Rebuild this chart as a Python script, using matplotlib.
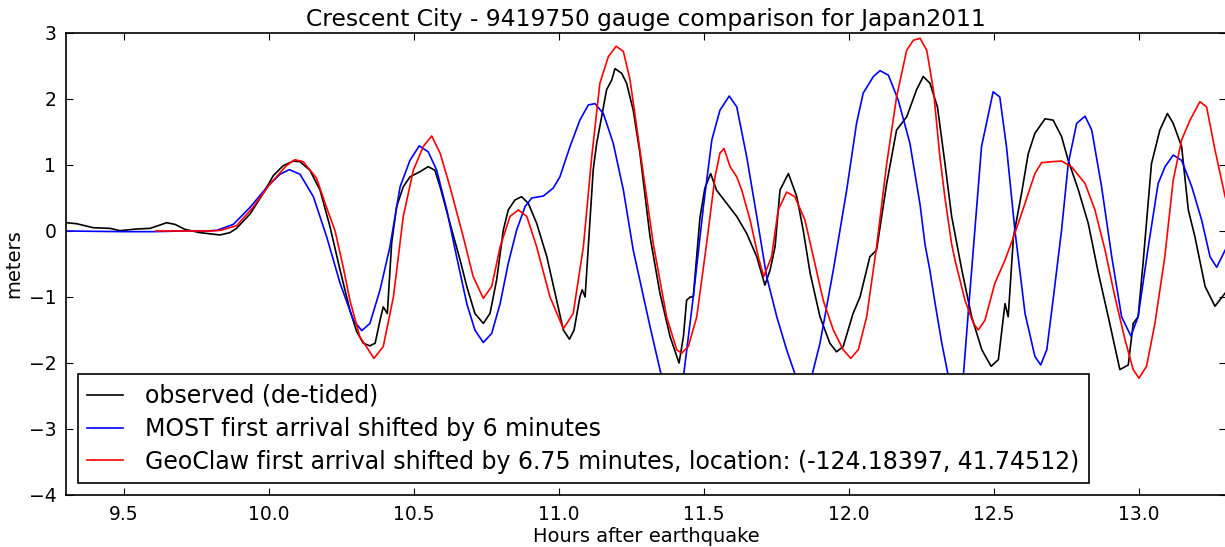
import matplotlib
matplotlib.use("Agg")
import matplotlib.pyplot as plt

# observed (de-tided) gauge record, hours after quake / meters
obs_t = [9.302, 9.337, 9.394, 9.452, 9.486, 9.543, 9.590, 9.624, 9.647, 9.676,
         9.710, 9.762, 9.831, 9.865, 9.888, 9.935, 9.980, 10.015, 10.049, 10.084,
         10.107, 10.141, 10.176, 10.210, 10.245, 10.279, 10.302, 10.325, 10.348, 10.366,
         10.383, 10.394, 10.408, 10.423, 10.440, 10.463, 10.486, 10.521, 10.549, 10.572,
         10.590, 10.624, 10.659, 10.682, 10.710, 10.739, 10.762, 10.785, 10.808, 10.825,
         10.848, 10.871, 10.894, 10.923, 10.958, 10.992, 11.015, 11.036, 11.052, 11.072,
         11.080, 11.090, 11.101, 11.118, 11.130, 11.147, 11.164, 11.182, 11.193, 11.216,
         11.233, 11.256, 11.279, 11.314, 11.348, 11.383, 11.414, 11.429, 11.440, 11.452,
         11.463, 11.486, 11.503, 11.523, 11.543, 11.578, 11.613, 11.647, 11.682, 11.710,
         11.728, 11.745, 11.762, 11.791, 11.820, 11.842, 11.866, 11.900, 11.934, 11.957,
         11.980, 12.014, 12.038, 12.072, 12.095, 12.130, 12.164, 12.199, 12.233, 12.256,
         12.279, 12.305, 12.331, 12.354, 12.389, 12.423, 12.458, 12.490, 12.515, 12.538,
         12.549, 12.567, 12.595, 12.618, 12.641, 12.676, 12.704, 12.733, 12.756, 12.791,
         12.825, 12.860, 12.894, 12.934, 12.963, 12.980, 12.997, 13.014, 13.043, 13.072,
         13.098, 13.118, 13.147, 13.170, 13.193, 13.228, 13.262, 13.297, 13.31]
obs_v = [0.126, 0.11, 0.05, 0.04, 0.005, 0.03, 0.04, 0.09, 0.126, 0.10,
         0.025, -0.025, -0.06, -0.025, 0.04, 0.26, 0.57, 0.84, 0.99, 1.06,
         1.05, 0.92, 0.62, 0.07, -0.59, -1.20, -1.52, -1.70, -1.74, -1.70,
         -1.35, -1.15, -1.25, -0.18, 0.37, 0.67, 0.82, 0.90, 0.975, 0.92,
         0.67, 0.116, -0.44, -0.84, -1.25, -1.40, -1.25, -0.74, 0.015, 0.318,
         0.47, 0.52, 0.42, 0.116, -0.39, -1.05, -1.50, -1.64, -1.50, -1.0,
         -0.89, -1.0, -0.24, 0.93, 1.33, 1.73, 2.14, 2.29, 2.46, 2.39,
         2.24, 1.83, 1.18, -0.09, -0.94, -1.60, -2.0, -1.60, -1.05, -1.0,
         -1.0, 0.2, 0.65, 0.87, 0.62, 0.42, 0.22, -0.035, -0.39, -0.82,
         -0.59, -0.24, 0.62, 0.87, 0.52, 0.015, -0.64, -1.30, -1.70, -1.83,
         -1.75, -1.25, -1.0, -0.39, -0.29, 0.72, 1.53, 1.73, 2.14, 2.34,
         2.24, 1.88, 1.02, 0.22, -0.59, -1.30, -1.80, -2.05, -1.95, -1.10,
         -1.30, -0.09, 0.57, 1.17, 1.48, 1.70, 1.68, 1.43, 1.07, 0.62,
         0.116, -0.64, -1.30, -2.10, -2.03, -1.40, -1.30, -0.49, 1.02, 1.53,
         1.78, 1.63, 1.28, 0.32, -0.09, -0.84, -1.14, -0.94, -0.9]

# MOST model, shifted 6 min
most_t = [9.30, 9.50, 9.60, 9.70, 9.78, 9.820, 9.877, 9.935, 9.992, 10.038,
          10.070, 10.107, 10.153, 10.199, 10.245, 10.291, 10.320, 10.348, 10.383, 10.417,
          10.452, 10.486, 10.518, 10.549, 10.578, 10.613, 10.647, 10.682, 10.710, 10.739,
          10.768, 10.797, 10.825, 10.854, 10.883, 10.906, 10.946, 10.980, 11.003, 11.038,
          11.072, 11.101, 11.124, 11.153, 11.187, 11.222, 11.256, 11.279, 11.314, 11.354,
          11.390, 11.429, 11.463, 11.498, 11.527, 11.555, 11.587, 11.613, 11.647, 11.682,
          11.716, 11.751, 11.785, 11.817, 11.845, 11.871, 11.900, 11.946, 11.992, 12.026,
          12.049, 12.084, 12.107, 12.136, 12.170, 12.210, 12.245, 12.262, 12.279, 12.297,
          12.320, 12.343, 12.365, 12.394, 12.411, 12.434, 12.457, 12.474, 12.497, 12.520,
          12.543, 12.572, 12.607, 12.641, 12.661, 12.682, 12.705, 12.733, 12.756, 12.785,
          12.814, 12.837, 12.871, 12.906, 12.940, 12.972, 12.997, 13.032, 13.066, 13.090,
          13.118, 13.147, 13.182, 13.216, 13.245, 13.268, 13.297, 13.31]
most_v = [0.0, -0.01, -0.01, 0.0, 0.0, 0.01, 0.1, 0.36, 0.66, 0.86,
          0.93, 0.86, 0.52, -0.09, -0.79, -1.35, -1.51, -1.40, -0.89, -0.24,
          0.67, 1.07, 1.29, 1.20, 0.925, 0.32, -0.39, -1.10, -1.50, -1.69,
          -1.55, -1.10, -0.49, 0.015, 0.37, 0.50, 0.53, 0.65, 0.82, 1.28,
          1.68, 1.91, 1.93, 1.78, 1.33, 0.62, -0.29, -0.75, -1.45, -2.21,
          -2.7, -2.21, -1.0, 0.37, 1.38, 1.83, 2.045, 1.88, 1.13, 0.22,
          -0.69, -1.30, -1.80, -2.21, -2.5, -2.21, -1.70, -0.59, 0.62, 1.63,
          2.09, 2.34, 2.43, 2.36, 1.98, 1.33, 0.40, -0.2, -0.6, -1.1,
          -1.70, -2.21, -2.6, -2.21, -1.25, 0.015, 1.28, 1.63, 2.11, 2.03,
          1.28, 0.015, -1.25, -1.90, -2.03, -1.80, -1.0, 0.015, 1.02, 1.63,
          1.74, 1.53, 0.67, -0.39, -1.30, -1.59, -1.30, -0.24, 0.72, 0.975,
          1.15, 1.07, 0.67, 0.167, -0.39, -0.55, -0.29, -0.2]

# GeoClaw model, shifted 6.75 min
geo_t = [9.61, 9.70, 9.80, 9.833, 9.888, 9.945, 10.003, 10.060, 10.089, 10.118,
         10.164, 10.199, 10.228, 10.256, 10.279, 10.313, 10.362, 10.394, 10.429, 10.463,
         10.498, 10.532, 10.561, 10.590, 10.624, 10.670, 10.704, 10.739, 10.768, 10.797,
         10.831, 10.860, 10.889, 10.923, 10.969, 11.015, 11.049, 11.084, 11.113, 11.141,
         11.170, 11.197, 11.222, 11.245, 11.279, 11.325, 11.371, 11.406, 11.423, 11.446,
         11.475, 11.509, 11.538, 11.555, 11.569, 11.590, 11.613, 11.630, 11.659, 11.687,
         11.706, 11.733, 11.756, 11.785, 11.813, 11.848, 11.877, 11.911, 11.946, 11.980,
         12.006, 12.032, 12.061, 12.095, 12.130, 12.164, 12.199, 12.222, 12.245, 12.268,
         12.291, 12.314, 12.331, 12.354, 12.366, 12.400, 12.429, 12.446, 12.469, 12.503,
         12.538, 12.572, 12.607, 12.641, 12.664, 12.699, 12.733, 12.768, 12.814, 12.848,
         12.883, 12.917, 12.952, 12.980, 13.000, 13.026, 13.055, 13.089, 13.118, 13.147,
         13.176, 13.210, 13.233, 13.262, 13.297, 13.31]
geo_v = [0.0, 0.0, 0.0, 0.01, 0.08, 0.36, 0.71, 0.99, 1.08, 1.05,
         0.80, 0.35, 0.0, -0.55, -1.05, -1.60, -1.93, -1.75, -1.0, 0.22,
         0.925, 1.28, 1.44, 1.18, 0.67, -0.09, -0.69, -1.02, -0.84, -0.24,
         0.22, 0.32, 0.22, -0.24, -1.0, -1.48, -1.25, -0.24, 1.13, 2.24,
         2.64, 2.80, 2.72, 2.29, 1.23, -0.19, -1.30, -1.80, -1.85, -1.75,
         -1.30, -0.19, 0.82, 1.18, 1.25, 0.975, 0.82, 0.62, 0.167, -0.39,
         -0.69, -0.39, 0.32, 0.59, 0.52, 0.167, -0.39, -1.05, -1.50, -1.80,
         -1.93, -1.80, -1.30, -0.24, 1.02, 2.03, 2.74, 2.89, 2.92, 2.74,
         2.14, 1.10, 0.50, -0.20, -0.45, -1.05, -1.40, -1.50, -1.35, -0.79,
         -0.44, -0.035, 0.42, 0.87, 1.035, 1.05, 1.06, 0.97, 0.72, 0.32,
         -0.29, -1.0, -1.65, -2.10, -2.23, -2.05, -1.40, -0.39, 0.77, 1.38,
         1.68, 1.96, 1.88, 1.23, 0.52, 0.35]

fig = plt.figure(figsize=(12.25, 5.47), dpi=100)
ax = fig.add_axes([66 / 1225, 52 / 547, 1160 / 1225, 462 / 547])

ax.plot(obs_t, obs_v, 'k', lw=1.2, label='observed (de-tided)')
ax.plot(most_t, most_v, 'b', lw=1.2, label='MOST first arrival shifted by 6 minutes')
ax.plot(geo_t, geo_v, 'r', lw=1.2,
        label='GeoClaw first arrival shifted by 6.75 minutes, location: (-124.18397, 41.74512)')

ax.set_xlim(9.3, 13.3)
ax.set_ylim(-4, 3)
ax.set_xticks([9.5, 10.0, 10.5, 11.0, 11.5, 12.0, 12.5, 13.0])
ax.set_xticklabels(['9.5', '10.0', '10.5', '11.0', '11.5', '12.0', '12.5', '13.0'])
ax.tick_params(direction='in', length=5, top=True, right=True, labelsize=13.5, pad=7)
for s in ax.spines.values():
    s.set_linewidth(1.2)

ax.set_xlabel('Hours after earthquake', fontsize=14, labelpad=2)
ax.set_ylabel('meters', fontsize=14, labelpad=4)
ax.set_title('Crescent City - 9419750 gauge comparison for Japan2011', fontsize=16.8, pad=5)

leg = ax.legend(loc='lower left', fontsize=17, fancybox=False, framealpha=1,
                handlelength=1.5, handletextpad=0.95, labelspacing=0.38,
                borderaxespad=0.5)
leg.get_frame().set_edgecolor('black')
leg.get_frame().set_linewidth(1.2)

fig.savefig('out.png', dpi=100)
